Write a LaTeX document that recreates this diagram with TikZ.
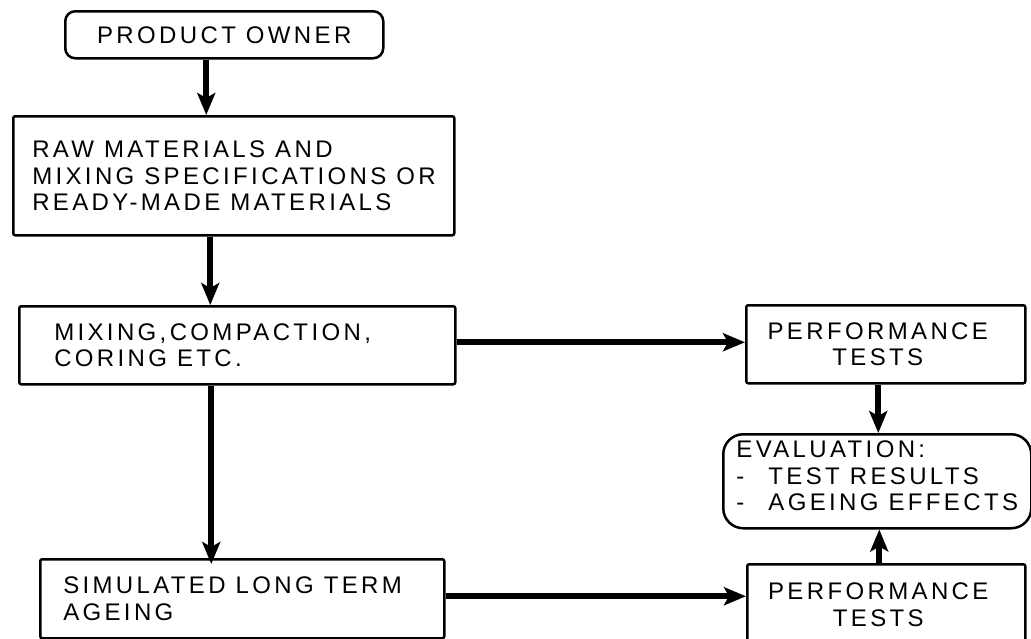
\documentclass[tikz,border=0pt]{standalone}
\usepackage{fontspec}
\setmainfont{Liberation Sans}[LetterSpace=14]
\usetikzlibrary{arrows.meta}
\newcommand\diafont{\fontsize{24}{26.5}\selectfont}
\newcommand\ws{\hspace{10pt}}
\begin{document}
\begin{tikzpicture}[x=1pt,y=-1pt,
  every node/.style={font=\diafont},
  box/.style={draw,line width=2.5pt,rounded corners=2pt,anchor=north west,inner ysep=0pt},
  lbox/.style={box,align=left},
  arr/.style={line width=6pt,-{Stealth[length=22pt,width=18pt,inset=5pt]}}]
\useasboundingbox (0,0) rectangle (1031,638);
\fill[white] (0,0) rectangle (1031,638);
\node[box,rounded corners=10pt,minimum width=318pt,minimum height=47pt,inner xsep=0pt] (po) at (64,10) {PRODUCT\ws OWNER};
\node[lbox,text width=403pt,inner xsep=19pt,minimum height=119pt] (raw) at (12,115)
  {RAW\ws MATERIALS\ws AND\\MIXING\ws SPECIFICATIONS\ws OR\\READY-MADE\ws MATERIALS};
\node[lbox,text width=366pt,inner xsep=35pt,minimum height=78pt] (mix) at (18,305)
  {MIXING,COMPACTION,\\CORING\ws ETC.};
\node[lbox,text width=358pt,inner xsep=23pt,minimum height=79pt] (sim) at (39,558)
  {SIMULATED\ws LONG\ws TERM\\AGEING};
\node[box,align=center,text width=279pt,inner xsep=0pt,minimum height=78pt] (pt1) at (745,304)
  {PERFORMANCE\rule{16pt}{0pt}\\TESTS\rule{16pt}{0pt}};
\node[box,align=center,text width=278pt,inner xsep=0pt,minimum height=81pt] (pt2) at (746,563)
  {PERFORMANCE\rule{16pt}{0pt}\\TESTS\rule{16pt}{0pt}};
\node[lbox,rounded corners=20pt,inner xsep=0pt,minimum width=308pt,minimum height=94pt] (ev) at (722,433)
  {EVALUATION:\\\makebox[32pt][l]{-}TEST\ws RESULTS\\\makebox[32pt][l]{-}AGEING\ws EFFECTS\rule[-11pt]{0pt}{11pt}};
\draw[arr] ([xshift=-18pt]po.south) -- ([xshift=-18pt]po.south |- raw.north);
\draw[arr] ([xshift=-23.5pt]raw.south) -- ([xshift=-23.5pt]raw.south |- mix.north);
\draw[arr] ([yshift=3pt]mix.east) -- ([yshift=3pt]mix.east -| pt1.west);
\draw[arr] ([xshift=-26pt]mix.south) -- ([xshift=-26pt,yshift=-6pt]mix.south |- sim.north);
\draw[arr] ([yshift=2.5pt]sim.east) -- ([yshift=2.5pt]sim.east -| pt2.west);
\draw[arr] ([xshift=-7.5pt]pt1.south) -- ([xshift=-7.5pt]pt1.south |- ev.north);
\draw[arr] ([xshift=-7pt]pt2.north) -- ([xshift=-7pt]pt2.north |- ev.south);
\end{tikzpicture}
\end{document}
